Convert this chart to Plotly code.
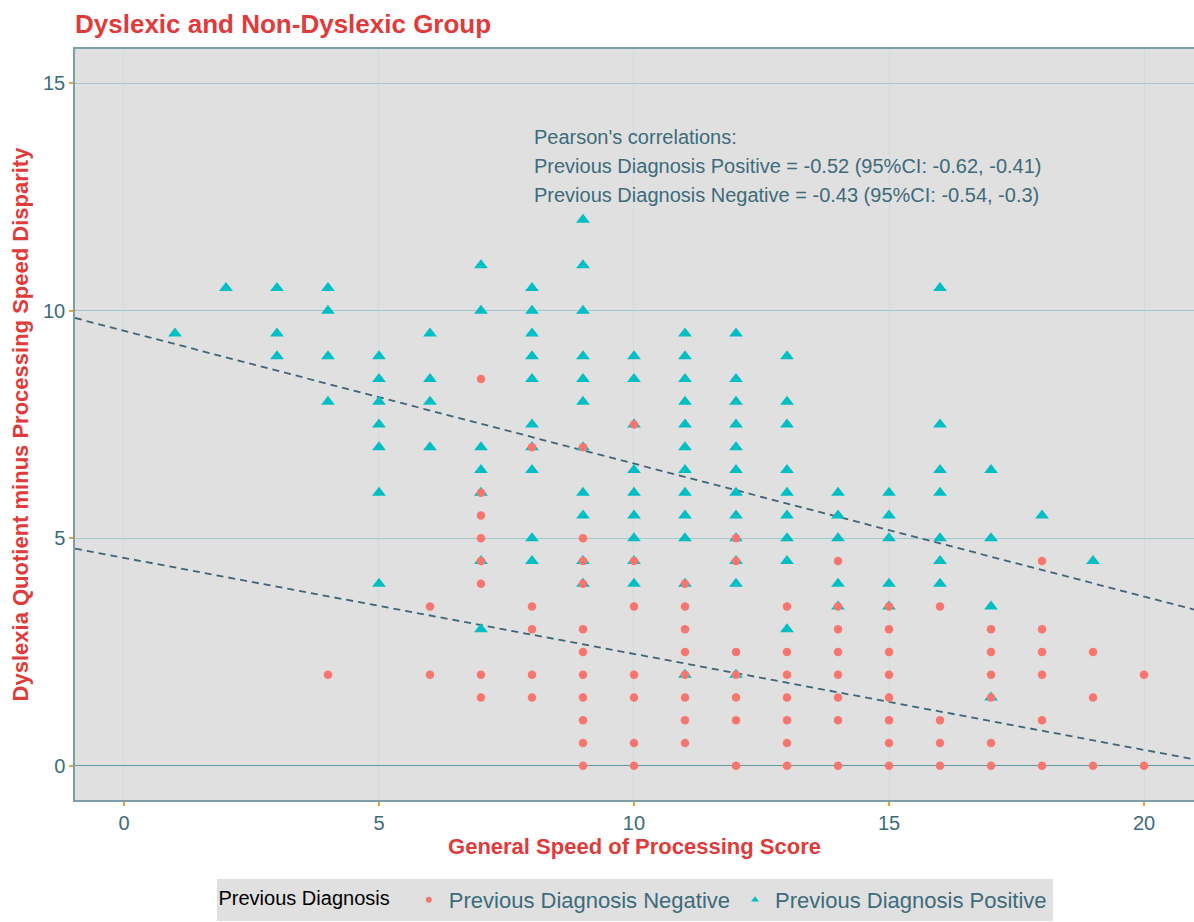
import numpy as np
import plotly.graph_objects as go

# General speed of processing score (x) vs disparity (y), by previous diagnosis
neg_x = ([4] + [6] * 2 + [7] * 8 + [8] * 5 + [9] * 11 + [10] * 7 + [11] * 8 + [12] * 7
         + [13] * 7 + [14] * 8 + [15] * 8 + [16] * 4 + [17] * 6 + [18] * 6 + [19] * 3 + [20] * 2)
neg_y = ([2]
         + [3.5, 2]
         + [8.5, 6, 5.5, 5, 4.5, 4, 2, 1.5]
         + [7, 3.5, 3, 2, 1.5]
         + [7, 5, 4.5, 4, 3, 2.5, 2, 1.5, 1, 0.5, 0]
         + [7.5, 4.5, 3.5, 2, 1.5, 0.5, 0]
         + [4, 3.5, 3, 2.5, 2, 1.5, 1, 0.5]
         + [5, 4.5, 2.5, 2, 1.5, 1, 0]
         + [3.5, 2.5, 2, 1.5, 1, 0.5, 0]
         + [4.5, 3.5, 3, 2.5, 2, 1.5, 1, 0]
         + [3.5, 3, 2.5, 2, 1.5, 1, 0.5, 0]
         + [3.5, 1, 0.5, 0]
         + [3, 2.5, 2, 1.5, 0.5, 0]
         + [4.5, 3, 2.5, 2, 1, 0]
         + [2.5, 1.5, 0]
         + [2, 0])

pos_x = ([1] + [2] + [3] * 3 + [4] * 4 + [5] * 7 + [6] * 4 + [7] * 7 + [8] * 10 + [9] * 11
         + [10] * 9 + [11] * 12 + [12] * 12 + [13] * 9 + [14] * 5 + [15] * 5 + [16] * 7
         + [17] * 4 + [18] + [19])
pos_y = ([9.5]
         + [10.5]
         + [10.5, 9.5, 9]
         + [10.5, 10, 9, 8]
         + [9, 8.5, 8, 7.5, 7, 6, 4]
         + [9.5, 8.5, 8, 7]
         + [11, 10, 7, 6.5, 6, 4.5, 3]
         + [10.5, 10, 9.5, 9, 8.5, 7.5, 7, 6.5, 5, 4.5]
         + [12, 11, 10, 9, 8.5, 8, 7, 6, 5.5, 4.5, 4]
         + [9, 8.5, 7.5, 6.5, 6, 5.5, 5, 4.5, 4]
         + [9.5, 9, 8.5, 8, 7.5, 7, 6.5, 6, 5.5, 5, 4, 2]
         + [9.5, 8.5, 8, 7.5, 7, 6.5, 6, 5.5, 5, 4.5, 4, 2]
         + [9, 8, 7.5, 6.5, 6, 5.5, 5, 4.5, 3]
         + [6, 5.5, 5, 4, 3.5]
         + [6, 5.5, 5, 4, 3.5]
         + [10.5, 7.5, 6.5, 6, 5, 4.5, 4]
         + [6.5, 5, 3.5, 1.5]
         + [5.5]
         + [4.5])

# Linear fits (intercept, slope) per group
pos_fit = [9.56, -0.292]
neg_fit = [4.57, -0.211]

group_names = ["Previous Diagnosis Negative", "Previous Diagnosis Positive"]
corr_lines = [
    "Pearson's correlations:",
    "Previous Diagnosis Positive = -0.52 (95%CI: -0.62, -0.41)",
    "Previous Diagnosis Negative = -0.43 (95%CI: -0.54, -0.3)",
]
corr_y = [13.82, 13.18, 12.54]
x_ticks = [0, 5, 10, 15, 20]
y_ticks = [0, 5, 10, 15]

X_RANGE = [-0.96, 20.98]
Y_RANGE = [-0.75, 15.75]

RED = "#F8766D"
TEAL = "#00BFC4"
SLATE = "#3D6B7A"
TITLE_RED = "#E03B3B"
FONT = "Liberation Sans, Arial, sans-serif"

fig = go.Figure()

line_x = np.array(X_RANGE)
for fit in (pos_fit, neg_fit):
    fig.add_trace(go.Scatter(
        x=line_x, y=fit[0] + fit[1] * line_x, mode="lines",
        line=dict(color="#3C6677", width=1.8, dash="7px,5px"),
        showlegend=False, hoverinfo="skip"))

fig.add_trace(go.Scatter(
    x=pos_x, y=pos_y, mode="markers", name=group_names[1], showlegend=False,
    marker=dict(symbol="triangle-up", size=12, color=TEAL)))
fig.add_trace(go.Scatter(
    x=neg_x, y=neg_y, mode="markers", name=group_names[0], showlegend=False,
    marker=dict(symbol="circle", size=8.5, color=RED)))

# Legend keys with small markers
fig.add_trace(go.Scatter(
    x=[None], y=[None], mode="markers", name=group_names[0],
    marker=dict(symbol="circle", size=6, color=RED)))
fig.add_trace(go.Scatter(
    x=[None], y=[None], mode="markers", name=group_names[1],
    marker=dict(symbol="triangle-up", size=7, color=TEAL)))

for txt, yv in zip(corr_lines, corr_y):
    fig.add_annotation(x=8, y=yv, xref="x", yref="y", text=txt, showarrow=False,
                       xanchor="left", yanchor="middle",
                       font=dict(family=FONT, size=20, color=SLATE))

axis_common = dict(
    showline=True, mirror=True, linecolor="#7E9FAA", linewidth=1.5,
    ticks="outside", ticklen=4, tickcolor="#E8A33D", tickwidth=1.5,
    tickfont=dict(family=FONT, size=20, color=SLATE), automargin=False,
)

fig.update_layout(
    width=1194, height=922,
    margin=dict(l=75, r=0, t=49, b=122),
    paper_bgcolor="white", plot_bgcolor="#E0E0E0",
    font=dict(family=FONT),
    title=dict(text="<b>Dyslexic and Non-Dyslexic Group</b>",
               x=75 / 1194, xanchor="left", xref="container",
               y=1 - 24 / 922, yanchor="middle", yref="container",
               font=dict(family=FONT, size=26, color=TITLE_RED)),
    xaxis=dict(range=X_RANGE, tickvals=x_ticks, showgrid=True, gridcolor="#CFDBDC",
               gridwidth=1, zeroline=False,
               title=dict(text="<b>General Speed of Processing Score</b>", standoff=6,
                          font=dict(family=FONT, size=22, color=TITLE_RED)),
               **axis_common),
    yaxis=dict(range=Y_RANGE, tickvals=y_ticks, showgrid=True, gridcolor="#A3C8CC",
               gridwidth=1.2, zeroline=True, zerolinecolor="#5E9AA1", zerolinewidth=1.2,
               title=dict(text="<b>Dyslexia Quotient minus Processing Speed Disparity</b>",
                          standoff=8,
                          font=dict(family=FONT, size=22, color=TITLE_RED)),
               **axis_common),
    legend=dict(orientation="h", x=0.5, xanchor="center", y=-0.161, yanchor="bottom",
                bgcolor="#E0E0E0", itemsizing="trace",
                title=dict(text="Previous Diagnosis  ",
                           font=dict(family=FONT, size=20, color="black")),
                font=dict(family=FONT, size=22, color=SLATE)),
)

fig.write_html("out.html")
